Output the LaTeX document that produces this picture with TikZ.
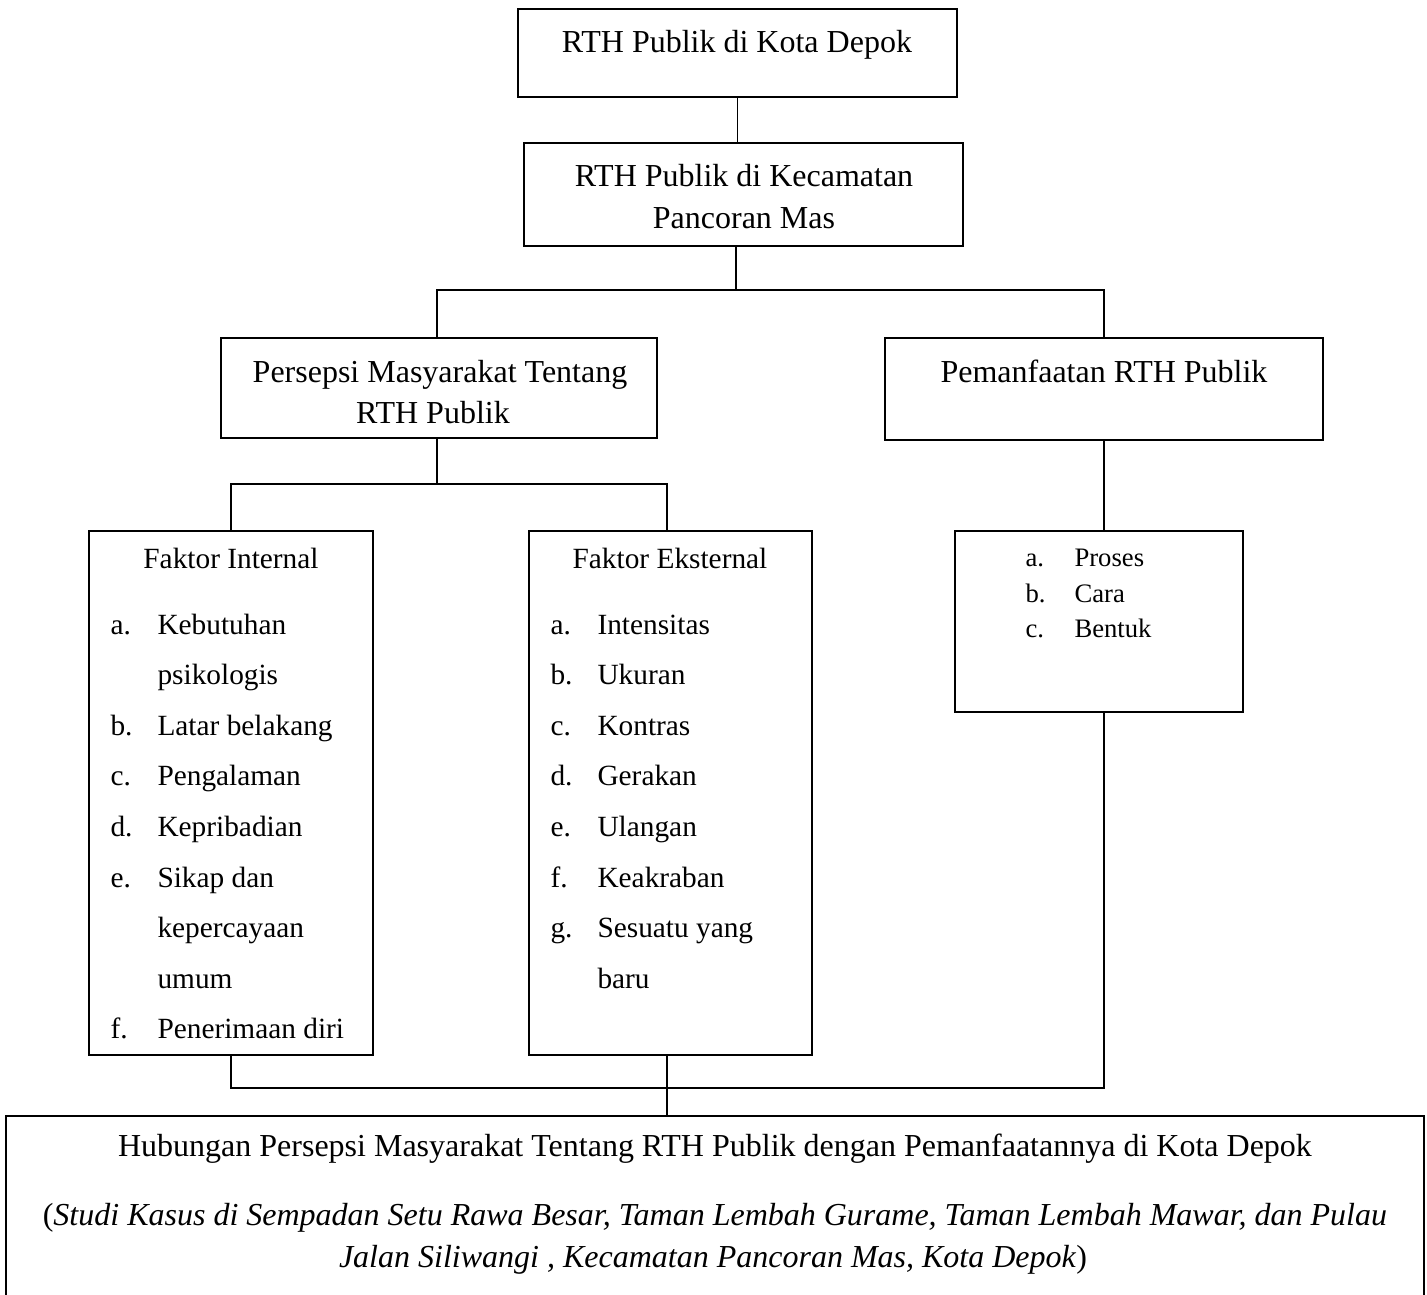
\documentclass[tikz,border=0pt]{standalone}
\usepackage{fontspec}
\setmainfont{Liberation Serif}
\usetikzlibrary{fit}
\tikzset{
  box/.style={draw=black, line width=0.8pt, inner sep=0pt, outer sep=0pt, rectangle},
  conn/.style={draw=black, line width=0.55pt},
  ttl/.style={inner sep=0pt, anchor=base, font=\fontsize{12}{14}\selectfont},
  lst/.style={inner sep=0pt, anchor=base west, font=\fontsize{11}{13}\selectfont},
  lsttl/.style={inner sep=0pt, anchor=base, font=\fontsize{11}{13}\selectfont},
  sml/.style={inner sep=0pt, anchor=base west, font=\fontsize{10}{12}\selectfont}
}
\begin{document}
\begin{tikzpicture}[x=0.375pt, y=-0.375pt]
\useasboundingbox (0,0) rectangle (1427,1295);
% boxes
\node[box, fit={(518,9) (957,97)}] (b1) {};
\node[box, fit={(524,143) (963,246)}] (b2) {};
\node[box, fit={(221,338) (657,438)}] (b3) {};
\node[box, fit={(885,338) (1323,440)}] (b4) {};
\node[box, fit={(89,531) (373,1055)}] (b5) {};
\node[box, fit={(529,531) (812,1055)}] (b6) {};
\node[box, fit={(955,531) (1243,712)}] (b7) {};
\node[box, fit={(6,1116) (1424,1302)}] (b8) {};
% junction coordinates
\coordinate (j1) at (736,290);
\coordinate (j2) at (437,484);
\coordinate (j3) at (667,1088);
% connectors
\draw[conn] (b1.south) -- (b1.south |- b2.north);
\draw[conn] (j1 |- b2.south) -- (j1);
\draw[conn] (j2 |- b3.north) |- (b4.north |- j1) -- (b4.north);
\draw[conn] (j2 |- b3.south) -- (j2);
\draw[conn] (b5.north) |- (j3 |- j2) -- (j3 |- b6.north);
\draw[conn] (b4.south) -- (b4.south |- b7.north);
\draw[conn] (b4.south |- b7.south) |- (b5.south |- j3) -- (b5.south);
\draw[conn] (j3 |- b6.south) -- (j3 |- b8.north);
% titles
\node[ttl] (t1) at (737,53) {RTH Publik di Kota Depok};
\node[ttl] (t2a) at (744,187) {RTH Publik di Kecamatan};
\node[ttl] (t2b) at (744,229) {Pancoran Mas};
\node[ttl] (t3a) at (440,382) {Persepsi Masyarakat Tentang};
\node[ttl] (t3b) at (433,424) {RTH Publik};
\node[ttl] (t4) at (1104,382) {Pemanfaatan RTH Publik};
% Faktor Internal
\node[lsttl] (t5) at (231,568) {Faktor Internal};
\node[lst] (i5a) at (110,634) {a.};
\node[lst] (i5at) at (157,634) {Kebutuhan};
\node[lst] (i5at2) at (157,684.6) {psikologis};
\node[lst] (i5b) at (110,735.2) {b.};
\node[lst] (i5bt) at (157,735.2) {Latar belakang};
\node[lst] (i5c) at (110,785.8) {c.};
\node[lst] (i5ct) at (157,785.8) {Pengalaman};
\node[lst] (i5d) at (110,836.4) {d.};
\node[lst] (i5dt) at (157,836.4) {Kepribadian};
\node[lst] (i5e) at (110,887) {e.};
\node[lst] (i5et) at (157,887) {Sikap dan};
\node[lst] (i5et2) at (157,937.6) {kepercayaan};
\node[lst] (i5et3) at (157,988.2) {umum};
\node[lst] (i5f) at (110,1038.8) {f.};
\node[lst] (i5ft) at (157,1038.8) {Penerimaan diri};
% Faktor Eksternal
\node[lsttl] (t6) at (670,568) {Faktor Eksternal};
\node[lst] (i6a) at (550,634) {a.};
\node[lst] (i6at) at (597,634) {Intensitas};
\node[lst] (i6b) at (550,684.6) {b.};
\node[lst] (i6bt) at (597,684.6) {Ukuran};
\node[lst] (i6c) at (550,735.2) {c.};
\node[lst] (i6ct) at (597,735.2) {Kontras};
\node[lst] (i6d) at (550,785.8) {d.};
\node[lst] (i6dt) at (597,785.8) {Gerakan};
\node[lst] (i6e) at (550,836.4) {e.};
\node[lst] (i6et) at (597,836.4) {Ulangan};
\node[lst] (i6f) at (550,887) {f.};
\node[lst] (i6ft) at (597,887) {Keakraban};
\node[lst] (i6g) at (550,937.6) {g.};
\node[lst] (i6gt) at (597,937.6) {Sesuatu yang};
\node[lst] (i6gt2) at (597,988.2) {baru};
% Pemanfaatan list
\node[sml] (i7a) at (1025,566) {a.};
\node[sml] (i7at) at (1074,566) {Proses};
\node[sml] (i7b) at (1025,602) {b.};
\node[sml] (i7bt) at (1074,602) {Cara};
\node[sml] (i7c) at (1025,638) {c.};
\node[sml] (i7ct) at (1074,638) {Bentuk};
% bottom box
\node[ttl] (t8a) at (715,1156) {Hubungan Persepsi Masyarakat Tentang RTH Publik dengan Pemanfaatannya di Kota Depok};
\node[ttl] (t8b) at (715,1225) {(\textit{Studi Kasus di Sempadan Setu Rawa Besar, Taman Lembah Gurame, Taman Lembah Mawar, dan Pulau}};
\node[ttl] (t8c) at (713,1267) {\textit{Jalan Siliwangi , Kecamatan Pancoran Mas, Kota Depok})};
\end{tikzpicture}
\end{document}
